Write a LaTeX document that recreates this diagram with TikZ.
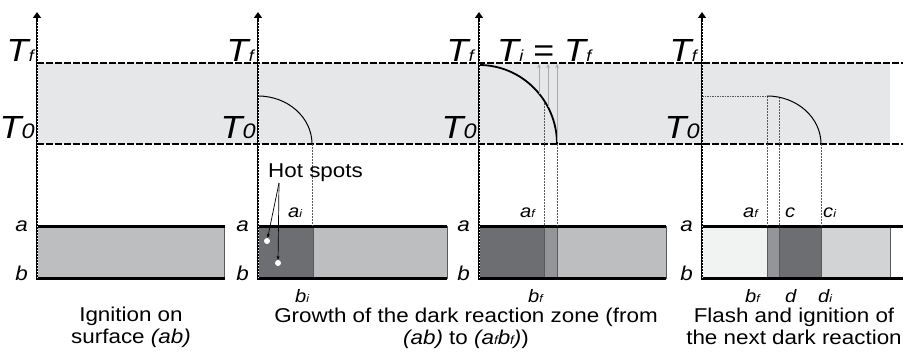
\documentclass[tikz,border=0pt]{standalone}
\usepackage{fontspec}
\setmainfont{Liberation Sans}[FakeStretch=1.12]
\usetikzlibrary{arrows.meta}
\definecolor{band}{HTML}{E6E7E8}
\definecolor{barlight}{HTML}{BCBEC0}
\definecolor{bardark}{HTML}{6D6E71}
\definecolor{barmid}{HTML}{939598}
\definecolor{barpale}{HTML}{F1F2F2}
\definecolor{barlighter}{HTML}{D1D3D4}
\definecolor{edgegrey}{HTML}{58595B}
\definecolor{arrowgrey}{HTML}{A7A9AC}
\newcommand\TT[2]{{\fontsize{32}{32}\selectfont\itshape T\kern0.3pt{\fontsize{#2}{#2}\selectfont #1}}}
\newcommand\lb[2]{{\fontsize{18}{18}\selectfont\itshape #1{\fontsize{11}{11}\selectfont #2}}}
\newcommand\ab[1]{{\fontsize{20}{20}\selectfont\itshape #1}}
\newcommand\sbs[1]{{\fontsize{12}{12}\selectfont #1}}
\tikzset{
  dashline/.style={line width=1.8pt, dash pattern=on 6.5pt off 2.5pt},
  barline/.style={line width=3pt},
  region/.style={draw=edgegrey, line width=0.8pt},
  guide/.style={edgegrey, line width=0.8pt, dash pattern=on 2pt off 1pt},
  uparrow/.style={arrowgrey, line width=0.8pt, -{Stealth[length=4pt,width=3.5pt]}},
  tlabel/.style={anchor=base east, inner sep=0pt},
  slabel/.style={anchor=base east, inner sep=0pt},
  sublabel/.style={anchor=base west, inner sep=0pt},
  caption/.style={anchor=base, inner sep=0pt, align=center, font=\fontsize{20}{22}\selectfont},
  hotdot/.style={circle, fill=white, inner sep=0pt, minimum size=6pt},
  hsline/.style={line width=0.7pt, -{Stealth[length=4pt,width=3pt]}}
}
\begin{document}
\begin{tikzpicture}[x=1pt,y=-1pt]
\useasboundingbox (0,0) rectangle (912,353);
% temperature band
\fill[band] (37,63) rectangle (890,144);
\draw[dashline] (37,63) -- (903,63);
\draw[dashline] (37,144) -- (903,144);
% bars
\filldraw[region, fill=barlight] (37,226) rectangle (224,278);
\filldraw[region, fill=bardark] (258,226) rectangle (313,278);
\filldraw[region, fill=barlight] (313,226) rectangle (447,278);
\filldraw[region, fill=bardark] (479,226) rectangle (544,278);
\filldraw[region, fill=barmid] (544,226) rectangle (557,278);
\filldraw[region, fill=barlight] (557,226) rectangle (666,278);
\filldraw[region, fill=barpale] (702,226) rectangle (767,278);
\filldraw[region, fill=barmid] (767,226) rectangle (779,278);
\filldraw[region, fill=bardark] (779,226) rectangle (821,278);
\filldraw[region, fill=barlighter] (821,226) rectangle (890,278);
\foreach \xa/\xb in {37/225,258/447,479/666,702/903}{
  \draw[barline] (\xa,226) -- (\xb,226);
  \draw[barline] (\xa,278) -- (\xb,278);
}
% guides
\draw[guide] (312,144) -- (312,226);
\draw[guide] (544,100) -- (544,226);
\draw[guide] (557,144) -- (557,226);
\draw[guide] (767,96) -- (767,226);
\draw[guide] (779,97) -- (779,226);
\draw[guide] (821,144) -- (821,226);
\draw[guide, dash pattern=on 1.5pt off 1pt] (702,96) -- (767,96);
% curves
\draw[line width=1pt] (258,96) .. controls (287.8,96) and (312,117.5) .. (312,144);
\draw[line width=1.8pt] (479,65) .. controls (522,65) and (557,100.4) .. (557,144);
\draw[line width=1pt] (767,96) .. controls (796.8,96) and (821,117.5) .. (821,144);
% grey arrows
\draw[uparrow] (539,94) -- (539,64);
\draw[uparrow] (548,107) -- (548,64);
\draw[uparrow] (557,142) -- (557,64);
% axes
\foreach \x in {37,258,479,702}{
  \draw[line width=2.8pt, -{Triangle[width=8pt,length=6pt]}] (\x,280) -- (\x,12);
  \draw[white, line width=0.9pt, dash pattern=on 1.2pt off 1.8pt] (\x,278) -- (\x,22);
}
% T labels
\node[tlabel] (tf1) at (34,61) {\TT{f}{16}};
\node[tlabel] (t01) at (35,138) {\TT{0}{21}};
\node[tlabel] (tf2) at (254,61) {\TT{f}{16}};
\node[tlabel] (t02) at (256,138) {\TT{0}{21}};
\node[tlabel] (tf3) at (474,61) {\TT{f}{16}};
\node[tlabel] (t03) at (477,138) {\TT{0}{21}};
\node[tlabel] (tf4) at (697,61) {\TT{f}{16}};
\node[tlabel] (t04) at (700,138) {\TT{0}{21}};
\node[anchor=base west, inner sep=0pt] (tieq) at (497,61) {\TT{i}{16}{\fontsize{32}{32}\selectfont\ =\ }\TT{f}{16}};
% a b labels
\foreach \x/\n in {37/1,258/2,479/3,702/4}{
  \node[slabel] (a\n) at (\x-9,231) {\ab{a}};
  \node[slabel] (b\n) at (\x-9,280) {\ab{b}};
}
% sub labels
\node[sublabel] (ai) at (288,217) {\lb{a}{i}};
\node[sublabel] (bi) at (295,302) {\lb{b}{i}};
\node[sublabel] (af3) at (520,217) {\lb{a}{f}};
\node[sublabel] (bf3) at (528,302) {\lb{b}{f}};
\node[sublabel] (af4) at (743,217) {\lb{a}{f}};
\node[sublabel] (c4) at (785,217) {\lb{c}{}};
\node[sublabel] (ci4) at (823,217) {\lb{c}{i}};
\node[sublabel] (bf4) at (745,302) {\lb{b}{f}};
\node[sublabel] (d4) at (785,302) {\lb{d}{}};
\node[sublabel] (di4) at (818,302) {\lb{d}{i}};
% hot spots
\node[anchor=base west, inner sep=0pt, font=\fontsize{20}{20}\selectfont] (hs) at (268,177) {Hot spots};
\coordinate (hsroot) at (279,183);
\node[hotdot] (dot1) at (267,241) {};
\node[hotdot] (dot2) at (278,263) {};
\draw[hsline] (hsroot) -- (dot1);
\draw[hsline] (hsroot) -- (dot2);
% captions (base = last line)
\node[caption] (cap1) at (131,343) {Ignition on\\surface \textit{(ab)}};
\node[caption] (cap2) at (466,344) {Growth of the dark reaction zone (from\\\textit{(ab)} to \textit{(a\sbs{f}b\sbs{f})})};
\node[caption] (cap3) at (794,344) {Flash and ignition of\\the next dark reaction};
\end{tikzpicture}
\end{document}
